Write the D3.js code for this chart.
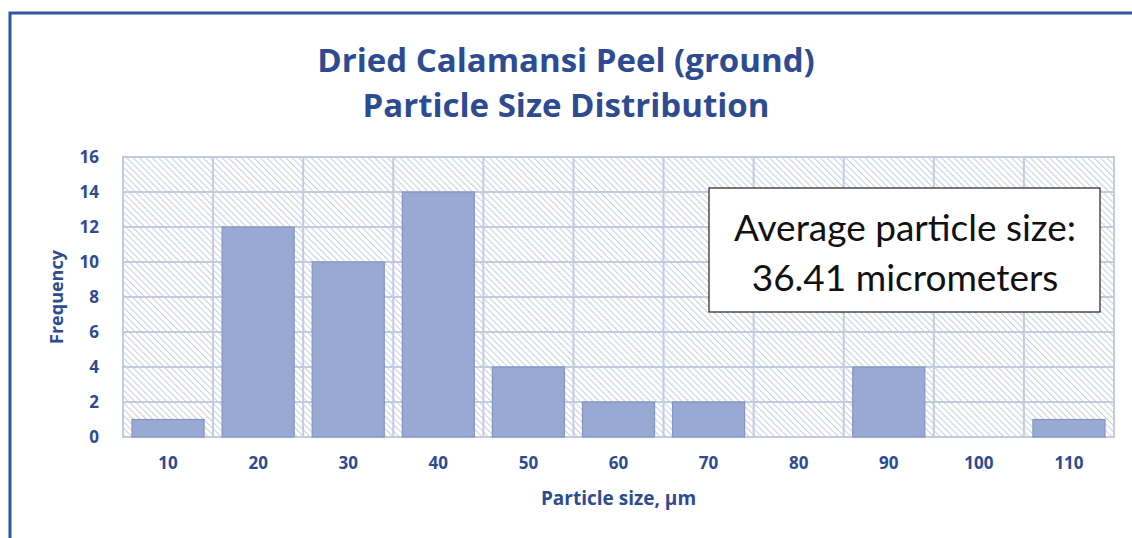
<!DOCTYPE html>
<html>
<head>
<meta charset="utf-8">
<script src="https://cdn.jsdelivr.net/npm/d3@7"></script>
<style>
  body { margin: 0; background: #fff; }
  svg { display: block; }
</style>
</head>
<body>
<div id="chart"></div>
<script>
// particle size bins (µm) and counts
var sizes = ['10', '20', '30', '40', '50', '60', '70', '80', '90', '100', '110'];
var counts = [1, 12, 10, 14, 4, 2, 2, 0, 4, 0, 1];
var yTicks = [0, 2, 4, 6, 8, 10, 12, 14, 16];
var titleLines = ['Dried Calamansi Peel (ground)', 'Particle Size Distribution'];
var noteLines = ['Average particle size:', '36.41 micrometers'];

var width = 1132, height = 538;
var navy = '#2d4b91';
var barFill = '#98aad3';
var gridColor = '#c3cbe0';
var font = "'Open Sans', 'DejaVu Sans', sans-serif";

var plot = { left: 123, right: 1114, top: 157, bottom: 437 };

var svg = d3.select('#chart').append('svg')
    .attr('width', width)
    .attr('height', height);

// diagonal hatch for the plot background
var defs = svg.append('defs');
var hatch = defs.append('pattern')
    .attr('id', 'hatch')
    .attr('patternUnits', 'userSpaceOnUse')
    .attr('width', 4.5)
    .attr('height', 4.5)
    .attr('patternTransform', 'rotate(-45)');
hatch.append('rect').attr('width', 4.5).attr('height', 4.5).attr('fill', '#ffffff');
hatch.append('line')
    .attr('x1', 0).attr('y1', 0).attr('x2', 0).attr('y2', 4.5)
    .attr('stroke', '#c8cedd')
    .attr('stroke-width', 2);

// outer frame (top and left edges only visible)
svg.append('path')
    .attr('d', 'M10,' + height + ' L10,13 L' + width + ',13')
    .attr('fill', 'none')
    .attr('stroke', '#2f56a0')
    .attr('stroke-width', 3);

var x = d3.scaleBand()
    .domain(sizes)
    .range([plot.left, plot.right])
    .paddingInner(0.2)
    .paddingOuter(0.1);

var y = d3.scaleLinear()
    .domain([0, 16])
    .range([plot.bottom, plot.top]);

// background
svg.append('rect')
    .attr('x', plot.left)
    .attr('y', plot.top)
    .attr('width', plot.right - plot.left)
    .attr('height', plot.bottom - plot.top)
    .attr('fill', 'url(#hatch)')
    .attr('stroke', gridColor)
    .attr('stroke-width', 2);

// horizontal gridlines
svg.append('g').selectAll('line')
    .data(yTicks)
    .join('line')
    .attr('x1', plot.left)
    .attr('x2', plot.right)
    .attr('y1', function(d) { return y(d); })
    .attr('y2', function(d) { return y(d); })
    .attr('stroke', gridColor)
    .attr('stroke-width', 2);

// vertical gridlines between categories
var step = x.step();
svg.append('g').selectAll('line')
    .data(sizes.slice(1))
    .join('line')
    .attr('x1', function(d) { return x(d) - step * 0.1; })
    .attr('x2', function(d) { return x(d) - step * 0.1; })
    .attr('y1', plot.top)
    .attr('y2', plot.bottom)
    .attr('stroke', gridColor)
    .attr('stroke-width', 2);

// bars
svg.append('g').selectAll('rect')
    .data(counts)
    .join('rect')
    .attr('x', function(d, i) { return x(sizes[i]); })
    .attr('width', x.bandwidth())
    .attr('y', function(d) { return y(d); })
    .attr('height', function(d) { return y(0) - y(d); })
    .attr('fill', barFill)
    .attr('stroke', '#8595bf')
    .attr('stroke-width', 1.2)
    .style('display', function(d) { return d > 0 ? null : 'none'; });

// axes
var yAxis = svg.append('g')
    .attr('transform', 'translate(' + (plot.left - 21) + ',0)')
    .call(d3.axisLeft(y).tickValues(yTicks).tickSize(0));
var xAxis = svg.append('g')
    .attr('transform', 'translate(0,' + (plot.bottom + 17) + ')')
    .call(d3.axisBottom(x).tickSize(0));

[yAxis, xAxis].forEach(function(g) {
    g.select('.domain').remove();
    g.selectAll('text')
        .attr('fill', navy)
        .style('font-family', font)
        .style('font-weight', 'bold')
        .style('font-size', '17px');
});

// title
svg.append('g').selectAll('text')
    .data(titleLines)
    .join('text')
    .attr('x', 566)
    .attr('y', function(d, i) { return 72 + i * 45; })
    .attr('text-anchor', 'middle')
    .attr('fill', navy)
    .style('font-family', font)
    .style('font-weight', 'bold')
    .style('font-size', '33px')
    .text(function(d) { return d; });

// axis titles
svg.append('text')
    .attr('transform', 'translate(63,' + ((plot.top + plot.bottom) / 2) + ') rotate(-90)')
    .attr('text-anchor', 'middle')
    .attr('fill', navy)
    .style('font-family', font)
    .style('font-weight', 'bold')
    .style('font-size', '18px')
    .text('Frequency');

svg.append('text')
    .attr('x', (plot.left + plot.right) / 2)
    .attr('y', 505)
    .attr('text-anchor', 'middle')
    .attr('fill', navy)
    .style('font-family', font)
    .style('font-weight', 'bold')
    .style('font-size', '19px')
    .text('Particle size, \u00b5m');

// annotation box
var note = svg.append('g');
note.append('rect')
    .attr('x', 709)
    .attr('y', 188)
    .attr('width', 391)
    .attr('height', 124)
    .attr('fill', '#ffffff')
    .attr('stroke', '#222')
    .attr('stroke-width', 1.2);
note.selectAll('text')
    .data(noteLines)
    .join('text')
    .attr('x', 905)
    .attr('y', function(d, i) { return 241 + i * 50; })
    .attr('text-anchor', 'middle')
    .attr('fill', '#111')
    .style('font-family', "Lato, 'Open Sans', sans-serif")
    .style('font-size', '37px')
    .text(function(d) { return d; });
</script>
</body>
</html>
